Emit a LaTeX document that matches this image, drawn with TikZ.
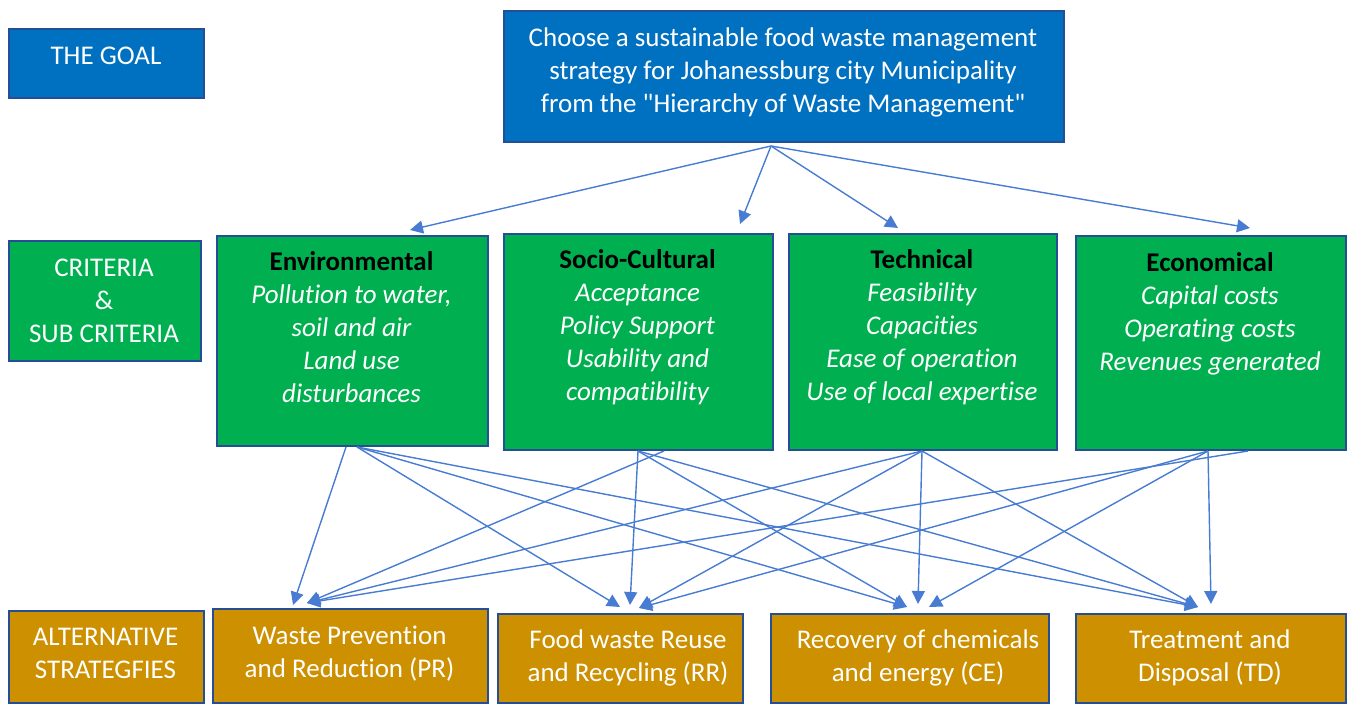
\documentclass[tikz,border=0pt]{standalone}
\usepackage{fontspec}
\setmainfont{Carlito}[Ligatures={NoCommon,TeXOff}]
\usetikzlibrary{arrows.meta}
\definecolor{goalblue}{RGB}{0,112,192}
\definecolor{critgreen}{RGB}{0,176,80}
\definecolor{altgold}{RGB}{204,144,0}
\definecolor{edgeblue}{RGB}{38,78,150}
\definecolor{linkblue}{RGB}{72,124,210}
\tikzset{
  box/.style={draw=edgeblue, line width=2.2pt, anchor=north west, inner sep=0pt, align=center, text=white},
  goalbox/.style={box, fill=goalblue},
  critbox/.style={box, fill=critgreen},
  altbox/.style={box, fill=altgold},
  boxtext/.style={align=center, inner sep=0pt, anchor=north},
  link/.style={draw=linkblue, line width=1.4pt, -{Triangle[length=13pt,width=13pt]}},
}
\begin{document}
\begin{tikzpicture}[x=1pt,y=-1pt]
\useasboundingbox (0,0) rectangle (1349,704);
\fontsize{27}{33}\selectfont
% Goal row
\node[goalbox, minimum width=195pt, minimum height=69pt] (goallab) at (8,28) {};
\node[boxtext, text=white] (goallabT) at (106,47) {THE GOAL};
\node[goalbox, minimum width=560pt, minimum height=131pt] (goal) at (503,10) {};
\node[boxtext, text=white] (goalT) at (783,28) {Choose a sustainable food waste management\\strategy for Johanessburg city Municipality\\from the "Hierarchy of Waste Management"};
% Criteria row
\node[critbox, minimum width=192pt, minimum height=120pt] (critlab) at (8,240) {};
\node[boxtext, text=white] (critlabT) at (104,259) {CRITERIA\\\&\\SUB CRITERIA};
\node[critbox, minimum width=271pt, minimum height=210pt] (env) at (216,235) {};
\node[boxtext] (envT) at (351.5,251) {\textbf{Environmental}\\\color{white}\itshape Pollution to water,\\\color{white}\itshape soil and air\\\color{white}\itshape Land use\\\color{white}\itshape disturbances};
\node[critbox, minimum width=269pt, minimum height=216pt] (soc) at (503,233) {};
\node[boxtext] (socT) at (637.5,249) {\textbf{Socio-Cultural}\\\color{white}\itshape Acceptance\\\color{white}\itshape Policy Support\\\color{white}\itshape Usability and\\\color{white}\itshape compatibility};
\node[critbox, minimum width=268pt, minimum height=216pt] (tech) at (788,233) {};
\node[boxtext] (techT) at (922,249) {\textbf{Technical}\\\color{white}\itshape Feasibility\\\color{white}\itshape Capacities\\\color{white}\itshape Ease of operation\\\color{white}\itshape Use of local expertise};
\node[critbox, minimum width=270pt, minimum height=214pt] (eco) at (1075,235) {};
\node[boxtext] (ecoT) at (1210,252) {\textbf{Economical}\\\color{white}\itshape Capital costs\\\color{white}\itshape Operating costs\\\color{white}\itshape Revenues generated};
% Alternatives row
\node[altbox, minimum width=195pt, minimum height=92pt] (altlab) at (8,610) {};
\node[boxtext, text=white] (altlabT) at (105.5,628) {ALTERNATIVE\\STRATEGFIES};
\node[altbox, minimum width=275pt, minimum height=94pt] (pr) at (212,608) {};
\node[boxtext, text=white] (prT) at (349.5,626) {Waste Prevention\\and Reduction (PR)};
\node[altbox, minimum width=245pt, minimum height=89pt] (rr) at (497,613) {};
\node[boxtext, text=white] (rrT) at (628,630) {Food waste Reuse\\and Recycling (RR)};
\node[altbox, minimum width=278pt, minimum height=89pt] (ce) at (770,613) {};
\node[boxtext, text=white] (ceT) at (918,630) {Recovery of chemicals\\and energy (CE)};
\node[altbox, minimum width=270pt, minimum height=89pt] (td) at (1075,613) {};
\node[boxtext, text=white] (tdT) at (1210,630) {Treatment and\\Disposal (TD)};
% connector end points
\coordinate (gS) at (771,146);
\coordinate (tEnv) at (410,230);
\coordinate (tSoc) at (740,224);
\coordinate (tTech) at (898,228);
\coordinate (tEco) at (1250,228);
\coordinate (envA) at (346,447);
\coordinate (envB) at (357,447);
\coordinate (socA) at (638,451);
\coordinate (socB) at (664,451);
\coordinate (techA) at (922,451);
\coordinate (ecoA) at (1208,451);
\coordinate (ecoB) at (1248,451);
\coordinate (prA) at (293,605);
\coordinate (prB) at (307,603);
\coordinate (rrA) at (620,607);
\coordinate (rrB) at (630,605);
\coordinate (rrC) at (639,608);
\coordinate (ceA) at (907,607);
\coordinate (ceB) at (918,604);
\coordinate (ceC) at (929,607);
\coordinate (tdA) at (1198,607);
\coordinate (tdB) at (1211,604);
% goal to criteria
\draw[link] (gS) -- (tEnv);
\draw[link] (gS) -- (tSoc);
\draw[link] (gS) -- (tTech);
\draw[link] (gS) -- (tEco);
% criteria to alternatives
\draw[link] (envA) -- (prA);
\draw[link] (envB) -- (rrA);
\draw[link] (envB) -- (ceA);
\draw[link] (envB) -- (tdA);
\draw[link] (socB) -- (prB);
\draw[link] (socA) -- (rrB);
\draw[link] (socA) -- (ceA);
\draw[link] (socA) -- (tdA);
\draw[link] (techA) -- (prB);
\draw[link] (techA) -- (rrC);
\draw[link] (techA) -- (ceB);
\draw[link] (techA) -- (tdA);
\draw[link] (ecoB) -- (prB);
\draw[link] (ecoA) -- (rrC);
\draw[link] (ecoA) -- (ceC);
\draw[link] (ecoA) -- (tdB);
\end{tikzpicture}
\end{document}
